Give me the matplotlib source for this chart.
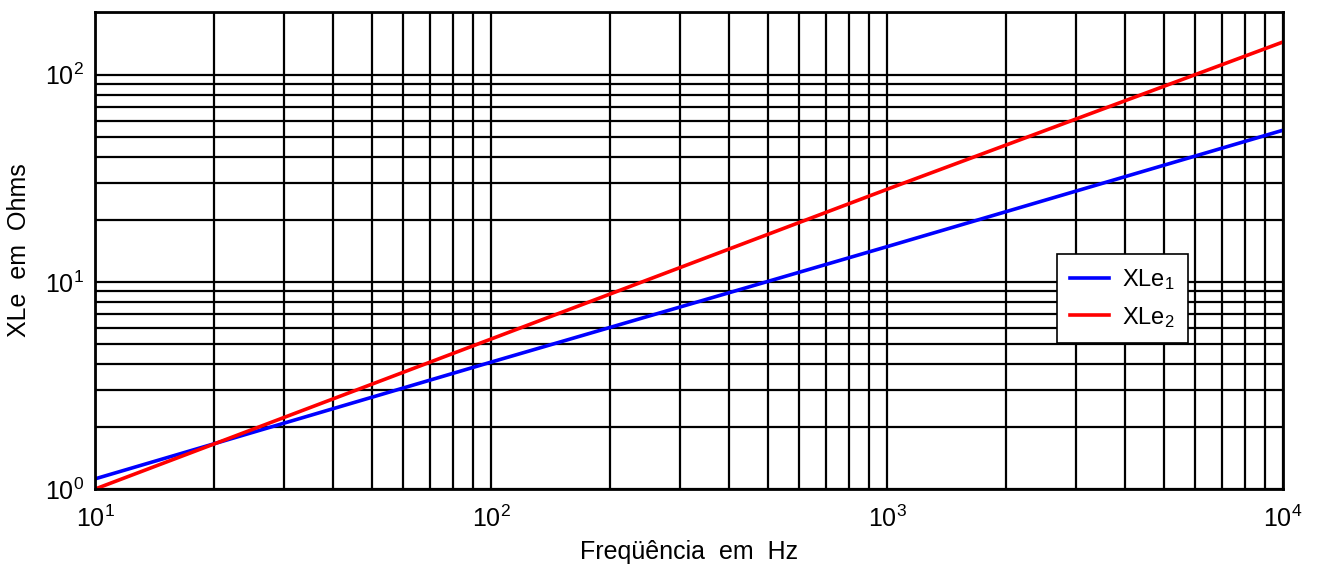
import matplotlib
matplotlib.use("Agg")
import matplotlib.pyplot as plt
from matplotlib.ticker import LogLocator, NullFormatter, FuncFormatter
import numpy as np

plt.rcParams['font.family'] = ['Liberation Sans', 'DejaVu Sans']
plt.rcParams['mathtext.fontset'] = 'custom'
plt.rcParams['mathtext.rm'] = 'Liberation Sans'
plt.rcParams['mathtext.it'] = 'Liberation Sans'

# frequency (Hz) and reactance (Ohms) at each decade
freq = [10, 100, 1000, 10000]
xle1 = [1.12, 4.1, 14.8, 54.0]
xle2 = [1.0, 5.3, 28.0, 144.0]

fig = plt.figure(figsize=(13.2, 5.7), dpi=100)
ax = fig.add_axes([0.072, 0.142, 0.9, 0.837])

ax.loglog(freq, xle1, color=(0, 0, 1), lw=2.6, label='XLe$_1$')
ax.loglog(freq, xle2, color=(1, 0, 0), lw=2.6, label='XLe$_2$')

ax.set_xlim(10, 1e4)
ax.set_ylim(1, 201)

def decade(v, pos):
    return r'$\mathregular{10^{%d}}$' % int(round(np.log10(v)))

ax.xaxis.set_major_locator(LogLocator(base=10, numticks=10))
ax.yaxis.set_major_locator(LogLocator(base=10, numticks=10))
ax.xaxis.set_minor_locator(LogLocator(base=10, subs=range(2, 10), numticks=20))
ax.yaxis.set_minor_locator(LogLocator(base=10, subs=range(2, 10), numticks=20))
ax.xaxis.set_major_formatter(FuncFormatter(decade))
ax.yaxis.set_major_formatter(FuncFormatter(decade))
ax.xaxis.set_minor_formatter(NullFormatter())
ax.yaxis.set_minor_formatter(NullFormatter())

ax.set_axisbelow(True)
ax.grid(True, which='both', color='black', lw=1.6, ls='-')
ax.tick_params(which='both', length=0, labelsize=18)
ax.tick_params(axis='x', pad=12)
ax.tick_params(axis='y', pad=8)
for s in ax.spines.values():
    s.set_linewidth(2)
    s.set_color('black')

ax.set_xlabel('Freqüência  em  Hz', fontsize=18, labelpad=6)
ax.set_ylabel('XLe  em  Ohms', fontsize=18, labelpad=10)

leg = ax.legend(loc='upper right', bbox_to_anchor=(0.92, 0.493), fontsize=17,
                handlelength=1.65, handletextpad=0.55, fancybox=False,
                framealpha=1, edgecolor='black', borderpad=0.55,
                labelspacing=0.55, borderaxespad=0)
leg.get_frame().set_linewidth(1.2)

fig.savefig('out.png', dpi=100)
